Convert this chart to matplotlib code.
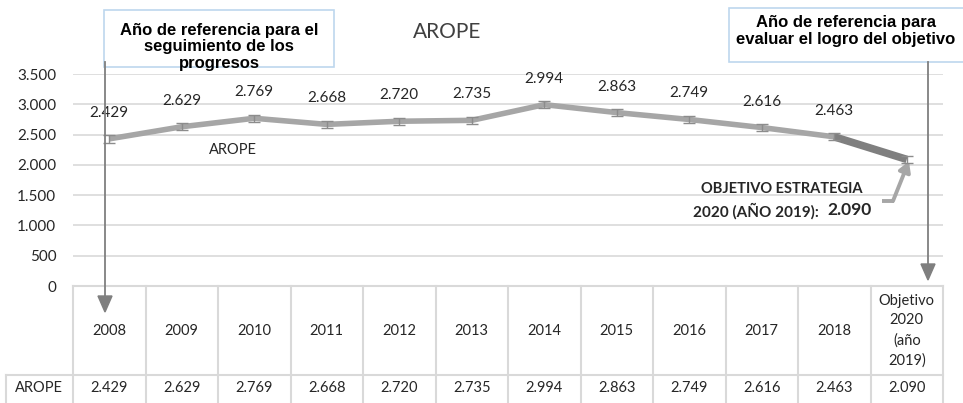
import matplotlib.pyplot as plt
from matplotlib.patches import FancyBboxPatch
from matplotlib.lines import Line2D

years = ['2008', '2009', '2010', '2011', '2012', '2013', '2014', '2015',
         '2016', '2017', '2018', 'Objetivo\n2020\n(año\n2019)']
arope = [2429, 2629, 2769, 2668, 2720, 2735, 2994, 2863, 2749, 2616, 2463, 2090]
arope_err = [60, 60, 60, 60, 60, 60, 60, 60, 60, 60, 60, 60]
y_ticks = [0, 500, 1000, 1500, 2000, 2500, 3000, 3500]


def fmt(v):
    return f'{v:,}'.replace(',', '.')


W, H = 963, 403
fig = plt.figure(figsize=(W / 100, H / 100), dpi=100)
ax = fig.add_axes([73 / W, (H - 286) / H, 870 / W, 212 / H])
ax.set_xlim(-0.5, len(years) - 0.5)
ax.set_ylim(0, 3500)
ax.set_yticks(y_ticks)
ax.set_yticklabels([fmt(v) for v in y_ticks], fontsize=11, family='Lato', color='#262626')
ax.tick_params(axis='y', length=0, pad=12)
ax.set_xticks([])
ax.grid(axis='y', color='#d9d9d9', linewidth=1.2)
ax.set_axisbelow(True)
for s in ax.spines.values():
    s.set_visible(False)

x = list(range(len(years)))
ax.plot(x[:-1], arope[:-1], color='#a6a6a6', linewidth=4, solid_capstyle='butt', zorder=3)
ax.plot(x[-2:], arope[-2:], color='#7f7f7f', linewidth=5.5, solid_capstyle='butt', zorder=3)
ax.errorbar(x, arope, yerr=arope_err, fmt='none', ecolor='#8c8c8c', elinewidth=1,
            capsize=4, capthick=1, zorder=4)

for xi, v in zip(x[:-1], arope[:-1]):
    ax.annotate(fmt(v), (xi, v), xytext=(0, 26), textcoords='offset pixels',
                ha='center', va='center', fontsize=11, family='Lato', color='#262626')
ax.text(1.7, 2250, 'AROPE', ha='center', va='center', fontsize=10.5, family='Lato', color='#262626')

# target annotation
ax.text(9.28, 1601, 'OBJETIVO ESTRATEGIA', ha='center', va='center', fontsize=10.5,
        family='Lato', weight='bold', color='#262626')
ax.text(9.78, 1238, '2020 (AÑO 2019):', ha='right', va='center', fontsize=11,
        family='Lato', weight='bold', color='#262626')
ax.text(9.91, 1255, fmt(arope[-1]), ha='left', va='center', fontsize=12.5,
        family='Lato', weight='bold', color='#262626')
ax.plot([10.66, 10.82], [1403, 1403], color='#a6a6a6', linewidth=2.8, solid_capstyle='butt')
ax.annotate('', xy=(11.03, 2060), xytext=(10.81, 1403),
            arrowprops=dict(arrowstyle='-|>,head_length=0.6,head_width=0.35',
                            color='#a6a6a6', lw=2.8, shrinkA=0, shrinkB=0))

# table under the chart
grid_c = '#d9d9d9'
r1, r2 = -0.42, -0.56
xt = ax.get_xaxis_transform()
for i, lab in enumerate(years):
    ax.text(i, (0 + r1) / 2, lab, transform=xt, ha='center', va='center', fontsize=10.5,
            family='Lato', color='#262626', linespacing=1.5, clip_on=False)
    ax.text(i, (r1 + r2) / 2 + 0.01, fmt(arope[i]), transform=xt, ha='center',
            va='center', fontsize=10.5, family='Lato', color='#262626', clip_on=False)
for b in range(len(years) + 1):
    ax.add_line(Line2D([b - 0.5, b - 0.5], [0, r2], transform=xt, color=grid_c,
                       lw=1.5, clip_on=False))
ax.add_line(Line2D([-0.5, len(years) - 0.5], [0, 0], transform=xt, color=grid_c,
                   lw=1.5, clip_on=False))
ax.add_line(Line2D([-1.43, len(years) - 0.5], [r1, r1], transform=xt, color=grid_c,
                   lw=1.5, clip_on=False))
ax.add_line(Line2D([-1.43, -1.43], [r1, r2], transform=xt, color=grid_c,
                   lw=1.5, clip_on=False))
ax.text(-0.97, (r1 + r2) / 2 + 0.01, 'AROPE', transform=xt, ha='center', va='center',
        fontsize=10.5, family='Lato', color='#262626', clip_on=False)

# title
fig.text(447 / W, 1 - 32 / H, 'AROPE', ha='center', va='center', fontsize=15,
         family='Lato', color='#404040')

# reference boxes
for (x0, y0, w, h, txt, tx, ty) in [
        (104, 10, 230, 57, 'Año de referencia para el\nseguimiento de los\nprogresos', 219, 47),
        (729, 8, 250, 54, 'Año de referencia para\nevaluar el logro del objetivo', 846, 31)]:
    fig.patches.append(FancyBboxPatch((x0 / W, 1 - (y0 + h) / H), w / W, h / H,
                                      boxstyle='square,pad=0', transform=fig.transFigure,
                                      facecolor='white', edgecolor='#bdd7ee', lw=1.2,
                                      zorder=1))
    fig.text(tx / W, 1 - ty / H, txt, ha='center', va='center', fontsize=12,
             family='Liberation Sans', weight='bold', color='black', linespacing=1.15,
             zorder=2)

fig.add_artist(Line2D([105 / W, 105 / W], [1 - 62 / H, 1 - 300 / H], color='#7f7f7f', lw=1.3))
fig.add_artist(Line2D([928 / W, 928 / W], [1 - 62 / H, 1 - 268 / H], color='#7f7f7f', lw=1.3))
fig.patches.append(plt.Polygon([[98 / W, 1 - 296 / H], [112 / W, 1 - 296 / H], [105 / W, 1 - 312 / H]],
                               closed=True, transform=fig.transFigure, color='#7f7f7f'))
fig.patches.append(plt.Polygon([[921 / W, 1 - 264 / H], [935 / W, 1 - 264 / H], [928 / W, 1 - 280 / H]],
                               closed=True, transform=fig.transFigure, color='#7f7f7f'))

fig.savefig('out.png', dpi=100)
